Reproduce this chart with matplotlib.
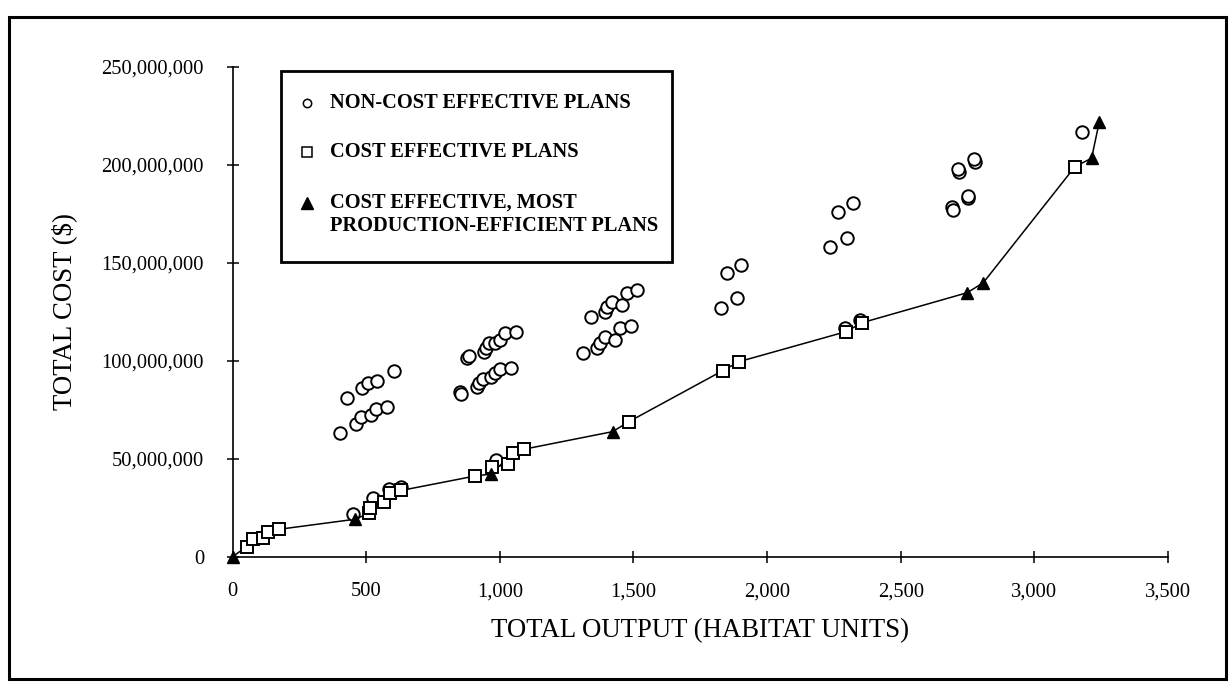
import matplotlib
matplotlib.use("Agg")
import matplotlib.pyplot as plt
from matplotlib.lines import Line2D
from matplotlib.patches import Rectangle
from matplotlib.ticker import FuncFormatter

plt.rcParams['font.family'] = ['Liberation Serif', 'DejaVu Serif']

# non-cost effective plans (habitat units, $ millions)
circle_x = [401, 463, 481, 518, 537, 579, 427, 485, 507, 542, 604,
            450, 527, 587, 630,
            853, 856, 915, 923, 938, 967, 982, 1000, 1042,
            878, 883, 941, 950, 960, 982, 1000, 1019, 1061, 986,
            1312, 1362, 1375, 1394, 1431, 1450, 1490,
            1341, 1394, 1400, 1419, 1456, 1475, 1514,
            1828, 1886, 1850, 1903,
            2235, 2298, 2264, 2320, 2293, 2349,
            2693, 2697, 2753, 2750, 2719, 2716, 2778, 2775,
            3177]
circle_y = [62.9, 67.5, 71.1, 72.3, 75.2, 76.2, 81.1, 85.9, 88.4, 89.8, 94.7,
            21.8, 29.8, 34.6, 35.4,
            84.0, 83.0, 86.7, 88.8, 90.5, 91.5, 93.5, 95.6, 96.4,
            101.5, 102.5, 104.3, 106.3, 108.8, 109.2, 110.5, 114.3, 114.8, 49.3,
            104.1, 106.3, 108.9, 112.2, 110.6, 116.5, 117.7,
            122.4, 125.0, 127.6, 130.1, 128.4, 134.4, 136.1,
            127.0, 131.8, 145.0, 149.0,
            157.9, 162.8, 176.0, 180.6, 116.5, 121.0,
            178.2, 177.0, 182.8, 184.0, 196.4, 198.0, 201.5, 203.0,
            216.8]

# cost effective plans
square_x = [53, 75, 113, 134, 175, 510, 516, 567, 591, 631,
            909, 971, 1030, 1049, 1089, 1483, 1834, 1895, 2295, 2356, 3152]
square_y = [5.1, 8.9, 9.4, 12.8, 14.0, 22.1, 24.7, 28.1, 32.6, 33.8,
            41.2, 45.9, 47.3, 53.1, 54.8, 68.9, 94.9, 99.5, 114.8, 119.4, 199.0]

# cost effective, most production-efficient plans
tri_x = [0, 458, 968, 1422, 2749, 2809, 3214, 3243]
tri_y = [0, 19.1, 42.2, 63.8, 134.7, 139.8, 203.3, 221.9]

legend_labels = ["NON-COST EFFECTIVE PLANS", "COST EFFECTIVE PLANS",
                 "COST EFFECTIVE, MOST\nPRODUCTION-EFFICIENT PLANS"]

W, H = 1232, 687
fig = plt.figure(figsize=(W / 100, H / 100), dpi=100)
ax = fig.add_axes([232.5 / W, 1 - 556.7 / H, (1168 - 232.5) / W, (556.7 - 66.7) / H])

M = 1e6
# frontier line through the cost effective plans
pts = sorted(zip(square_x + tri_x, square_y + tri_y))
ax.plot([p[0] for p in pts], [p[1] * M for p in pts], color='black', lw=1.1, zorder=2)

ax.plot(circle_x, [v * M for v in circle_y], 'o', ms=9, mfc='white', mec='black', mew=1.4,
        ls='none', zorder=3)
ax.plot(square_x, [v * M for v in square_y], 's', ms=8.5, mfc='white', mec='black', mew=1.4,
        ls='none', zorder=4)
ax.plot(tri_x, [v * M for v in tri_y], '^', ms=9, color='black', ls='none', zorder=5,
        clip_on=False)

ax.set_xlim(0, 3500)
ax.set_ylim(0, 250 * M)
ax.set_xticks(range(0, 3501, 500))
ax.set_yticks([i * 50 * M for i in range(6)])
fmt = FuncFormatter(lambda v, p: f"{v:,.0f}")
ax.xaxis.set_major_formatter(fmt)
ax.yaxis.set_major_formatter(fmt)
ax.tick_params(direction='inout', length=9, width=1.1, labelsize=14.8)
ax.tick_params(axis='x', pad=14)
ax.tick_params(axis='y', pad=16)
for s in ['top', 'right']:
    ax.spines[s].set_visible(False)
for s in ['left', 'bottom']:
    ax.spines[s].set_linewidth(1.2)

ax.set_xlabel("TOTAL OUTPUT (HABITAT UNITS)", fontsize=19.3, labelpad=12)
ax.set_ylabel("TOTAL COST ($)", fontsize=19.3)
ax.yaxis.set_label_coords(77 / W, 1 - 312 / H, transform=fig.transFigure)

# legend box drawn by hand
fig.patches.append(Rectangle((281 / W, 1 - 262 / H), (672 - 281) / W, (262 - 71) / H,
                             transform=fig.transFigure, fill=True, fc='white',
                             ec='black', lw=2, zorder=10))
rows_y = [103, 152, 214.5]
mark_y = [103, 152, 202.5]
marks = [dict(marker='o', mfc='white', mec='black', ms=6, mew=1.1),
         dict(marker='s', mfc='white', mec='black', ms=6.5, mew=1.1),
         dict(marker='^', color='black', ms=8)]
for ry, my, lab, mk in zip(rows_y, mark_y, legend_labels, marks):
    fig.lines.append(Line2D([307 / W], [1 - my / H], transform=fig.transFigure, ls='none',
                            zorder=11, **mk))
    fig.text(330 / W, 1 - ry / H, lab, fontsize=14.7, fontweight='bold', va='center',
             ha='left', zorder=12, linespacing=1.2)

# outer frame
fig.patches.append(Rectangle((9 / W, 1 - 679 / H), (1226 - 9) / W, (679 - 17) / H,
                             transform=fig.transFigure, fill=False, ec='black', lw=2.2))

fig.savefig("out.png", dpi=100, facecolor='white')
